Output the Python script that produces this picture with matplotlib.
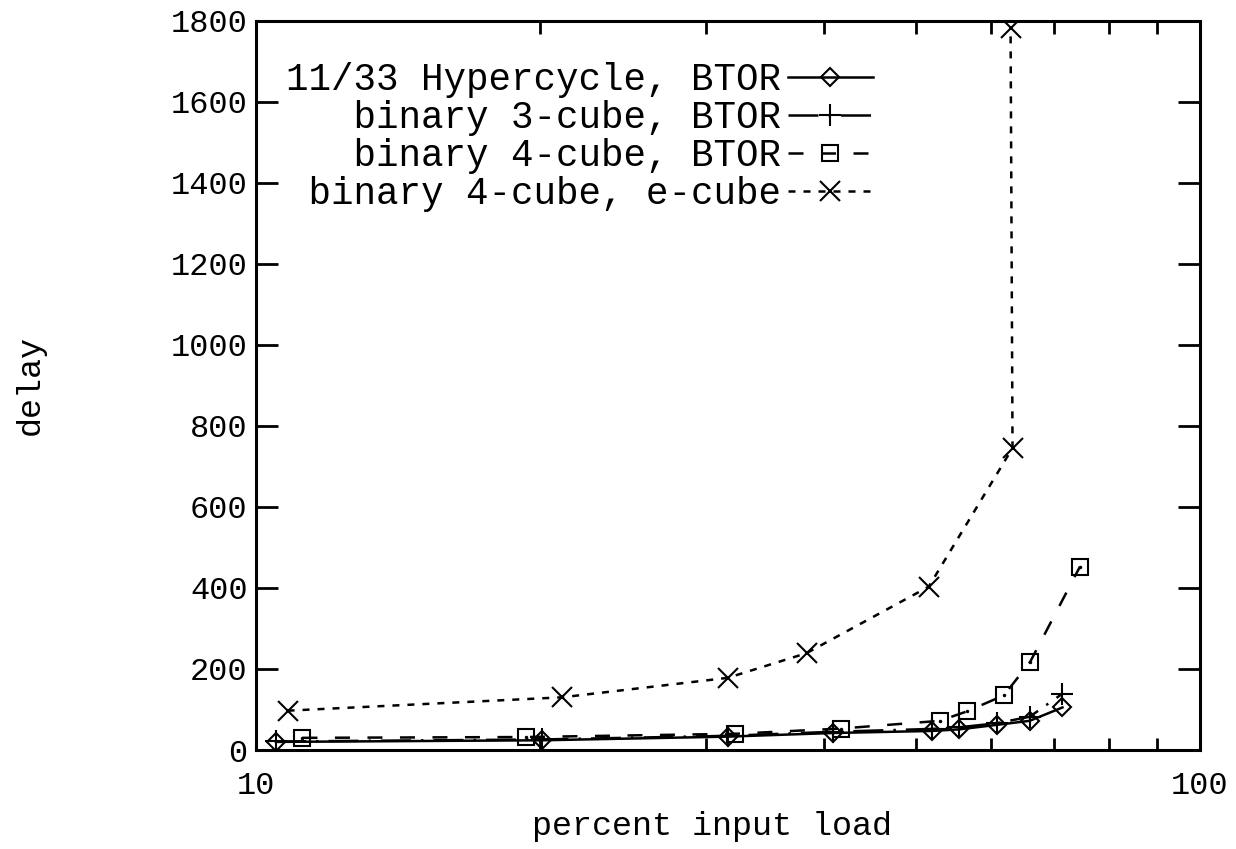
import matplotlib
matplotlib.use('Agg')
import matplotlib.pyplot as plt
from matplotlib.ticker import FixedLocator, NullFormatter

plt.rcParams['font.family'] = ['Liberation Mono', 'DejaVu Sans Mono']

# Данные
hyper_x = [10.5, 20.1, 31.6, 40.9, 52.0, 55.6, 60.9, 66.0, 71.5]
hyper_y = [20, 24, 33, 42, 47, 51, 62, 72, 105]

cube3_x = [10.5, 20.1, 31.6, 40.9, 52.0, 55.6, 60.9, 66.0, 71.4]
cube3_y = [21, 26, 35, 45, 52, 56, 66, 82, 138]

cube4_x = [11.2, 19.3, 32.2, 41.7, 53.0, 56.6, 62.0, 66.1, 74.6]
cube4_y = [30, 32, 40, 53, 72, 95, 135, 218, 452]

ecube_x = [10.8, 21.1, 31.6, 38.3, 51.6, 63.3, 63.0]
ecube_y = [97, 130, 178, 239, 403, 745, 1781]

labels = ['11/33 Hypercycle, BTOR',
          'binary 3-cube, BTOR',
          'binary 4-cube, BTOR',
          'binary 4-cube, e-cube']
width = max(len(s) for s in labels)
labels = [s.rjust(width) for s in labels]   # моноширинный шрифт -> выравнивание вправо

y_ticks = list(range(0, 1801, 200))
x_major = [10, 100]
x_minor = [20, 30, 40, 50, 60, 70, 80, 90]

W, H = 1236, 849
fig = plt.figure(figsize=(W / 100, H / 100), dpi=100)
ax = fig.add_axes([256 / W, (H - 750) / H, 944 / W, 729.5 / H])

lw = 1.8
mew = 1.5
ax.plot(hyper_x, hyper_y, color='black', lw=lw, ls='-',
        marker='D', ms=9, mfc='none', mec='black', mew=mew, label=labels[0])
ax.plot(cube3_x, cube3_y, color='black', lw=lw, ls=(0, (12, 4, 1, 4)),
        marker='+', ms=16, mec='black', mew=mew, label=labels[1])
ax.plot(cube4_x, cube4_y, color='black', lw=lw, ls=(0, (6, 7)),
        marker='s', ms=11.5, mfc='none', mec='black', mew=mew, label=labels[2])
ax.plot(cube4_x, cube4_y, ls='none', marker='.', ms=3, color='black')
ax.plot(ecube_x, ecube_y, color='black', lw=lw, ls=(0, (2.8, 3.2)),
        marker='x', ms=14, mec='black', mew=mew, label=labels[3])

ax.set_xscale('log')
ax.set_xlim(10, 100)
ax.set_ylim(0, 1800)
ax.xaxis.set_major_locator(FixedLocator(x_major))
ax.xaxis.set_minor_locator(FixedLocator(x_minor))
ax.xaxis.set_minor_formatter(NullFormatter())
ax.set_xticklabels([str(v) for v in x_major])
ax.set_yticks(y_ticks)

ax.tick_params(which='major', direction='in', length=16, width=2,
               top=True, right=True, labelsize=23)
ax.tick_params(which='minor', direction='in', length=9, width=2,
               top=True, right=True)
ax.tick_params(axis='y', pad=6)
ax.tick_params(axis='x', pad=15)
for sp in ax.spines.values():
    sp.set_linewidth(2.2)

fig.text(30 / W, 1 - 385 / H, 'delay', rotation=90,
         ha='center', va='center', fontsize=24)
fig.text(712 / W, 1 - 826 / H, 'percent input load',
         ha='center', va='center', fontsize=24)

ax.legend(loc='upper right', bbox_to_anchor=((873 - 256) / 944, (750 - 62) / 729.5),
          frameon=False, markerfirst=False, fontsize=27, borderpad=0,
          borderaxespad=0, handlelength=2.27, handletextpad=0.19,
          labelspacing=0.05)

fig.savefig('out.png', dpi=100, facecolor='white')
